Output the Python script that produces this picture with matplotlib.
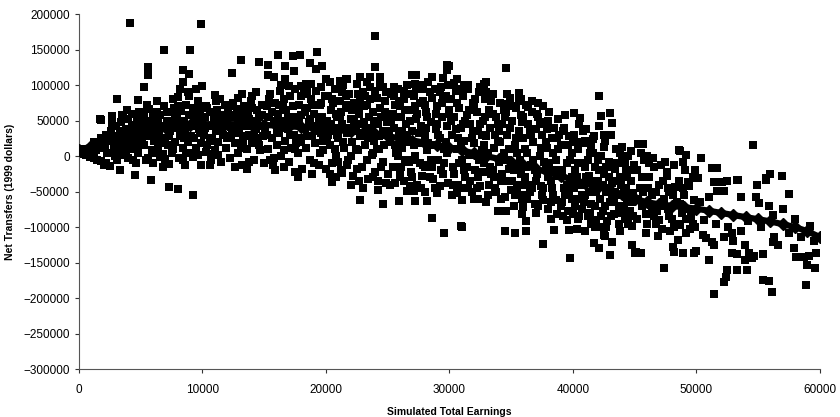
import matplotlib
matplotlib.use("Agg")
import matplotlib.pyplot as plt

plt.rcParams['font.family'] = ['Liberation Sans', 'DejaVu Sans']

# smoothed profile (diamonds): earnings in $1000, net transfers in $1000
trend_earn_k = list(range(0, 61))
trend_net_k = [8, 14, 20, 26, 31, 35, 38, 41, 43, 44, 45, 45, 45, 45, 44, 44, 43, 42, 41, 40,
               39, 37, 35, 33, 31, 28, 25, 22, 19, 15, 12, 8, 4, 0, -4, -8, -13, -18, -23, -28,
               -33, -38, -43, -48, -54, -60, -65, -68, -70, -72, -74, -77, -80, -83, -86, -89,
               -92, -96, -100, -106, -114]

# simulated individuals (squares), (earnings $1000, net transfers $1000)
pts_0_5 = [(4.1, 187), (3.1, 81), (1.7, 52), (2.7, 57), (1.8, 51), (3.5, 58), (3.9, 65), (4.8, 79),
           (2.5, -14), (3.3, -19), (4.5, -26), (4.0, -3), (2.0, -12),
           (0.3, 3), (0.6, 1), (0.9, -1), (1.2, -3), (1.5, -5), (1.8, -7), (2.2, -9),
           (0.5, 10), (1.0, 12), (1.2, 20), (1.5, 15), (1.8, 25), (2.0, 18), (2.2, 30), (2.3, 5),
           (2.5, 22), (2.6, 35), (2.8, 12), (3.0, 28), (3.0, 42), (3.2, 8), (3.3, 20), (3.4, 48),
           (3.5, 32), (3.6, 2), (3.7, 15), (3.8, 38), (3.9, 25), (4.0, 52), (4.1, 10), (4.2, 30),
           (4.3, 44), (4.4, -5), (4.5, 20), (4.6, 36), (4.7, 55), (4.8, 5), (4.9, 28), (4.9, 46),
           (2.7, 45), (1.4, 8), (3.1, -6), (4.3, 60), (4.6, -10), (2.9, 0), (3.6, 55), (4.2, 17)]
pts_5_10 = [(9.9, 186), (6.9, 149), (9.0, 150), (5.6, 125), (5.6, 114), (8.4, 121), (8.9, 116),
            (5.3, 98), (8.4, 105), (8.2, 94), (8.8, 90), (8.0, 83), (7.3, -43), (8.0, -47),
            (9.2, -55), (5.8, -34), (9.9, -12), (7.3, -11), (5.4, -5), (8.4, -5), (9.2, -1), (6.6, -1),
            (5.0, 62), (5.2, 40), (5.3, 15), (5.4, 50), (5.5, 28), (5.6, -2), (5.7, 66), (5.8, 35),
            (5.9, 8), (6.0, 55), (6.1, 22), (6.2, 45), (6.3, 62), (6.4, 12), (6.5, 30), (6.6, 58),
            (6.7, 40), (6.8, 3), (6.9, 70), (7.0, 25), (7.1, 50), (7.2, 15), (7.3, 62), (7.4, 35),
            (7.5, 5), (7.6, 48), (7.7, 68), (7.8, 20), (7.9, 55), (8.0, 40), (8.1, -2), (8.2, 28),
            (8.3, 64), (8.4, 12), (8.5, 50), (8.6, 35), (8.7, 72), (8.8, 20), (8.9, 58), (9.0, 5),
            (9.1, 42), (9.2, 68), (9.3, 25), (9.4, 52), (9.5, 12), (9.6, 78), (9.7, 38), (9.8, 60),
            (9.9, 18), (9.95, 48), (5.5, 72), (6.3, 78), (7.6, 80), (8.9, 85), (9.5, 95), (6.0, -10),
            (7.0, -4), (8.6, -12), (9.6, 2), (6.8, -15)]
pts_10_15 = [(13.1, 136), (14.6, 132), (12.4, 117), (10.0, 99), (11.0, 86), (11.1, 77), (13.2, 87),
             (14.3, 90), (10.3, 6), (10.9, 3), (13.8, -8), (10.8, 1),
             (10.1, 30), (10.2, 55), (10.3, 70), (10.4, 15), (10.5, 42), (10.6, 62), (10.7, -5),
             (10.8, 25), (10.9, 50), (11.0, 8), (11.1, 35), (11.2, 65), (11.3, 20), (11.4, 48),
             (11.5, -8), (11.6, 58), (11.7, 30), (11.8, 72), (11.9, 12), (12.0, 45), (12.1, 62),
             (12.2, -2), (12.3, 28), (12.4, 55), (12.5, 75), (12.6, 18), (12.7, 40), (12.8, 66),
             (12.9, 5), (13.0, 32), (13.1, 52), (13.2, -12), (13.3, 22), (13.4, 70), (13.5, 42),
             (13.6, 10), (13.7, 60), (13.8, 30), (13.9, 78), (14.0, 18), (14.1, 50), (14.2, -5),
             (14.3, 38), (14.4, 65), (14.5, 25), (14.6, 55), (14.7, 8), (14.8, 72), (14.9, 42),
             (14.95, -10), (11.4, 80), (12.9, 82), (14.0, 85), (10.6, -12), (12.6, -15), (13.6, -18)]
pts_15_20 = [(16.1, 142), (17.3, 141), (17.9, 143), (19.3, 147), (15.3, 128), (16.7, 127), (17.4, 120),
             (18.7, 131), (19.7, 127), (19.2, 123), (15.3, 115), (15.8, 111), (16.7, 108), (17.0, 99),
             (18.8, 101), (18.0, 99), (20.0, 108), (17.7, -29), (16.6, -15), (15.8, -3),
             (15.1, 40), (15.2, 70), (15.3, 10), (15.4, 55), (15.5, 88), (15.6, 25), (15.7, -12),
             (15.8, 45), (15.9, 75), (16.0, 15), (16.1, 60), (16.2, 32), (16.3, 92), (16.4, 0),
             (16.5, 50), (16.6, 80), (16.7, 22), (16.8, 65), (16.9, 38), (17.0, -8), (17.1, 85),
             (17.2, 12), (17.3, 55), (17.4, 30), (17.5, 95), (17.6, 45), (17.7, 5), (17.8, 72),
             (17.9, 25), (18.0, 58), (18.1, -18), (18.2, 88), (18.3, 38), (18.4, 12), (18.5, 68),
             (18.6, 48), (18.7, -5), (18.8, 80), (18.9, 28), (19.0, 60), (19.1, 18), (19.2, 92),
             (19.3, 42), (19.4, -12), (19.5, 72), (19.6, 32), (19.7, 55), (19.8, 8), (19.9, 85),
             (19.95, 40), (15.9, -20), (17.5, -22), (18.9, -25), (16.4, 100), (18.4, 102), (19.6, 98)]
pts_20_25 = [(24.0, 169), (24.0, 125), (24.4, 112), (23.6, 111), (22.8, 111), (21.1, 106), (21.7, 108),
             (24.6, 98), (22.8, -62), (24.6, -68), (24.2, -48), (21.3, -24), (20.5, -36),
             (20.1, 50), (20.2, 85), (20.3, 15), (20.4, 65), (20.5, -10), (20.6, 35), (20.7, 95),
             (20.8, 0), (20.9, 55), (21.0, 25), (21.1, 78), (21.2, -20), (21.3, 45), (21.4, 100),
             (21.5, 12), (21.6, 68), (21.7, 32), (21.8, -5), (21.9, 88), (22.0, 52), (22.1, 20),
             (22.2, -28), (22.3, 75), (22.4, 40), (22.5, 102), (22.6, 8), (22.7, 60), (22.8, 28),
             (22.9, -15), (23.0, 90), (23.1, 48), (23.2, 15), (23.3, 72), (23.4, -32), (23.5, 38),
             (23.6, 98), (23.7, 2), (23.8, 62), (23.9, 22), (24.0, -22), (24.1, 82), (24.2, 45),
             (24.3, 10), (24.4, 100), (24.5, 55), (24.6, -8), (24.7, 30), (24.8, 78), (24.9, -38),
             (24.95, 48), (20.8, -30), (22.0, -40), (23.0, -45), (21.6, 108), (23.3, 105), (20.3, 105)]
pts_25_30 = [(27.0, 115), (27.3, 114), (27.2, 102), (27.9, 100), (29.2, 90), (29.8, 128), (29.8, 121),
             (25.5, 97), (26.3, 92), (25.9, -63), (27.2, -63), (28.2, -63), (28.6, -87), (29.6, -108),
             (26.6, -49), (27.1, -49),
             (25.1, 60), (25.2, 20), (25.3, 88), (25.4, -15), (25.5, 40), (25.6, 72), (25.7, 5),
             (25.8, 95), (25.9, 30), (26.0, -30), (26.1, 55), (26.2, 12), (26.3, 80), (26.4, -5),
             (26.5, 45), (26.6, 100), (26.7, 22), (26.8, 65), (26.9, -22), (27.0, 35), (27.1, 85),
             (27.2, 0), (27.3, 52), (27.4, -40), (27.5, 18), (27.6, 75), (27.7, 42), (27.8, 95),
             (27.9, -12), (28.0, 28), (28.1, 62), (28.2, 8), (28.3, 105), (28.4, -30), (28.5, 48),
             (28.6, 82), (28.7, 15), (28.8, -45), (28.9, 38), (29.0, 70), (29.1, -5), (29.2, 25),
             (29.3, 98), (29.4, 55), (29.5, -25), (29.6, 10), (29.7, 85), (29.8, 42), (29.9, -38),
             (29.95, 65), (25.6, -38), (26.8, -42), (28.0, -50), (29.0, -52), (28.6, 112), (29.5, 110)]
pts_30_35 = [(30.0, 127), (34.6, 124), (30.6, 108), (30.4, 103), (31.2, 100), (32.8, 101), (33.0, 105),
             (34.7, 88), (31.0, -100), (33.9, -78), (34.6, -77), (34.5, -106), (32.3, -60), (31.0, -62),
             (30.9, -99),
             (30.1, 80), (30.2, 30), (30.3, -15), (30.4, 55), (30.5, 92), (30.6, 10), (30.7, -40),
             (30.8, 68), (30.9, 40), (31.0, -5), (31.1, 85), (31.2, 22), (31.3, -30), (31.4, 58),
             (31.5, 95), (31.6, 2), (31.7, 45), (31.8, -50), (31.9, 75), (32.0, 18), (32.1, -20),
             (32.2, 62), (32.3, 35), (32.4, 90), (32.5, -42), (32.6, 8), (32.7, 50), (32.8, -10),
             (32.9, 80), (33.0, 28), (33.1, -55), (33.2, 65), (33.3, 40), (33.4, -25), (33.5, 88),
             (33.6, 12), (33.7, -45), (33.8, 55), (33.9, 22), (34.0, -8), (34.1, 75), (34.2, -35),
             (34.3, 45), (34.4, 5), (34.5, -58), (34.6, 62), (34.7, 30), (34.8, -18), (34.9, 82),
             (34.95, -48), (30.6, -52), (32.0, -60), (33.0, -65), (31.5, 100), (32.5, 97)]
pts_35_40 = [(35.6, 89), (35.6, 77), (34.5, 74), (36.7, 77), (37.6, 71), (36.4, 69), (35.3, -108),
             (36.2, -105), (37.6, -124), (39.8, -143), (38.5, -104), (39.7, -104), (35.9, -81),
             (36.2, -92), (39.5, -90),
             (35.1, 50), (35.2, -20), (35.3, 15), (35.4, 68), (35.5, -45), (35.6, 35), (35.7, -5),
             (35.8, 58), (35.9, -60), (36.0, 25), (36.1, -30), (36.2, 72), (36.3, 5), (36.4, 45),
             (36.5, -50), (36.6, -12), (36.7, 62), (36.8, 20), (36.9, -68), (37.0, 38), (37.1, -25),
             (37.2, 55), (37.3, 0), (37.4, -42), (37.5, 30), (37.6, -62), (37.7, 48), (37.8, -15),
             (37.9, 12), (38.0, -75), (38.1, 62), (38.2, -35), (38.3, 25), (38.4, -55), (38.5, 40),
             (38.6, -5), (38.7, -82), (38.8, 52), (38.9, -28), (39.0, 15), (39.1, -65), (39.2, 35),
             (39.3, -45), (39.4, 58), (39.5, -10), (39.6, -78), (39.7, 28), (39.8, -35), (39.9, 5),
             (39.95, -60), (36.0, -72), (37.0, -80), (38.2, -88), (35.8, 80), (37.2, 75)]
pts_40_45 = [(40.1, 61), (40.6, 54), (42.3, 57), (43.0, 61), (43.2, 47), (44.0, 13), (44.7, 7),
             (42.5, 13), (41.6, 24), (41.0, 22), (42.1, 85), (41.7, -123), (42.1, -129), (43.2, -121),
             (43.0, -139), (44.8, -125), (40.3, -103), (41.0, -105), (42.5, -111), (42.7, -100),
             (41.8, -100), (40.4, -88), (42.6, -113), (45.0, -137),
             (40.1, 30), (40.2, -20), (40.3, -60), (40.4, 10), (40.5, 45), (40.6, -40), (40.7, -75),
             (40.8, 18), (40.9, -10), (41.0, -55), (41.1, 38), (41.2, -85), (41.3, -28), (41.4, 5),
             (41.5, -68), (41.6, -45), (41.7, 28), (41.8, -15), (41.9, -90), (42.0, -35), (42.1, 42),
             (42.2, -60), (42.3, 0), (42.4, -78), (42.5, -25), (42.6, 22), (42.7, -50), (42.8, -92),
             (42.9, -8), (43.0, -65), (43.1, 30), (43.2, -38), (43.3, -82), (43.4, -18), (43.5, 10),
             (43.6, -55), (43.7, -95), (43.8, -30), (43.9, -70), (44.0, -5), (44.1, -45), (44.2, -88),
             (44.3, -20), (44.4, -60), (44.5, 0), (44.6, -78), (44.7, -35), (44.8, -98), (44.9, -52),
             (44.95, -12), (40.0, -82), (41.5, -95), (43.8, -105)]
pts_45_50 = [(45.3, 17), (45.7, 17), (46.0, 0), (48.6, 8), (48.7, 7), (49.2, 1), (47.1, -13),
             (47.6, -22), (48.3, -43), (49.1, -20), (49.9, -20), (50.0, -31), (47.8, -85), (48.7, -97),
             (49.5, -102), (49.9, -100), (46.6, -85), (48.5, -118), (48.9, -137), (48.1, -128),
             (48.2, -135), (49.8, -137), (50.0, -133), (47.4, -157), (45.5, -136), (45.1, -135),
             (48.9, -8),
             (45.2, -20), (45.4, -45), (45.6, -70), (45.8, -5), (46.0, -95), (46.2, -30), (46.4, -55),
             (46.6, -15), (46.8, -78), (47.0, -40), (47.2, -102), (47.4, -60), (47.6, -28), (47.8, -50),
             (48.0, -88), (48.2, -12), (48.4, -65), (48.6, -35), (48.8, -80), (49.0, -55), (49.2, -108),
             (49.4, -42), (49.6, -85), (49.8, -62), (45.9, -108), (46.9, -112), (47.9, -105),
             (45.5, 5), (46.5, -2), (47.5, -8)]
pts_50_55 = [(50.4, -3), (51.3, -17), (51.7, -17), (50.1, -31), (49.3, -36), (51.4, -36), (52.1, -36),
             (52.5, -35), (53.3, -34), (53.6, -57), (54.8, -57), (55.1, -66), (51.0, -58), (51.7, -49),
             (52.2, -49), (54.6, 16), (50.5, -111), (50.8, -116), (51.4, -125), (51.3, -121),
             (52.2, -114), (52.9, -109), (52.9, -136), (53.3, -138), (53.9, -125), (54.3, -136),
             (54.5, -144), (53.9, -147), (54.7, -141), (51.0, -146), (52.5, -161), (52.4, -170),
             (52.2, -177), (53.3, -161), (54.1, -161), (51.4, -194), (54.9, -41), (53.4, -34),
             (50.6, -90), (51.6, -95), (52.6, -100), (53.6, -105), (50.3, -65), (54.2, -92), (53.0, -120)]
pts_55_60 = [(55.4, -138), (55.4, -175), (55.9, -176), (56.1, -192), (56.3, -114), (56.6, -125),
             (56.2, -121), (57.9, -130), (58.1, -142), (58.7, -142), (59.1, -141), (59.7, -137),
             (59.0, -153), (59.6, -157), (58.9, -182), (56.2, -83), (57.5, -108), (58.5, -114),
             (56.0, -25), (55.6, -31), (56.9, -28), (57.5, -54), (55.6, -33), (55.9, -70), (57.0, -75),
             (58.0, -88), (59.2, -98), (59.5, -120), (55.2, -100)]

# extra points inside the dense core of the cloud
core_0_15 = [(1.1, 6), (1.6, 11), (2.1, 14), (2.4, 26), (2.9, 18), (3.3, 36), (3.8, 5), (4.4, 40),
             (4.7, 13), (4.9, 62), (5.1, 22), (5.3, 55), (5.6, 44), (5.9, 30), (6.2, 5), (6.4, 52),
             (6.6, 18), (6.9, 42), (7.1, 62), (7.3, 28), (7.6, 10), (7.8, 58), (8.0, 70), (8.2, 48),
             (8.5, 25), (8.7, 4), (8.9, 44), (9.1, 28), (9.3, 60), (9.6, 50), (9.8, 32), (9.9, 70),
             (10.2, 40), (10.4, 68), (10.6, 22), (10.9, 60), (11.1, 48), (11.3, 2), (11.6, 40),
             (11.8, 55), (12.0, 25), (12.2, 70), (12.4, 35), (12.7, 58), (12.9, 48), (13.1, 12),
             (13.3, 62), (13.5, 28), (13.8, 52), (14.0, 68), (14.2, 30), (14.4, 45), (14.6, 15),
             (14.8, 58), (14.9, 28)]
core_15_30 = [(15.2, 30), (15.4, 80), (15.6, 62), (15.9, 50), (16.2, 72), (16.4, 40), (16.6, 8),
              (16.9, 55), (17.1, 30), (17.3, 70), (17.6, 18), (17.8, 48), (18.0, 85), (18.3, 62),
              (18.5, 28), (18.7, 52), (18.9, 72), (19.1, 35), (19.4, 50), (19.6, 75), (19.8, 22),
              (20.1, 25), (20.4, 45), (20.6, 75), (20.9, 30), (21.1, 55), (21.4, 20), (21.6, 85),
              (21.9, 40), (22.1, 65), (22.4, 10), (22.6, 88), (22.9, 45), (23.1, 70), (23.4, 25),
              (23.6, 80), (23.9, 50), (24.1, 10), (24.4, 68), (24.6, 35), (24.9, 90),
              (25.1, 35), (25.4, 60), (25.6, 15), (25.9, 78), (26.1, -15), (26.4, 65), (26.6, 30),
              (26.9, 88), (27.1, 15), (27.4, 60), (27.6, -10), (27.9, 78), (28.1, 40), (28.4, 90),
              (28.6, -15), (28.9, 60), (29.1, 30), (29.4, 75), (29.6, -10), (29.9, 100)]
core_30_50 = [(30.1, 50), (30.4, -25), (30.6, 75), (30.9, 15), (31.1, 45), (31.4, -15), (31.6, 65),
              (31.9, 35), (32.1, 80), (32.4, -5), (32.6, 30), (32.9, 55), (33.1, 5), (33.4, 78),
              (33.6, -30), (33.9, 45), (34.1, 20), (34.4, 65), (34.6, -35), (34.9, 40),
              (35.1, -35), (35.4, 25), (35.6, -15), (35.9, 48), (36.1, 10), (36.4, -40), (36.6, 30),
              (36.9, -20), (37.1, 60), (37.4, 12), (37.6, -45), (37.9, 38), (38.1, -10), (38.4, 5),
              (38.6, -62), (38.9, 30), (39.1, -20), (39.4, -55), (39.6, 15), (39.9, -30),
              (40.1, -45), (40.4, -10), (40.6, 20), (40.9, -65), (41.1, -30), (41.4, -80), (41.6, 5),
              (41.9, -50), (42.1, -20), (42.4, -40), (42.6, -70), (42.9, -30), (43.1, -85), (43.4, -50),
              (43.6, -10), (43.9, -40), (44.1, -70), (44.4, -30), (44.6, -55), (44.9, -85),
              (45.3, -60), (45.6, -30), (45.9, -82), (46.1, -45), (46.4, -75), (46.7, -50), (47.0, -90),
              (47.3, -35), (47.7, -75), (48.1, -55), (48.5, -95), (48.9, -45), (49.3, -75), (49.7, -95)]
core_15_45 = [(15.5, -5), (16.0, 35), (16.5, 70), (17.0, 48), (17.5, 10), (18.0, 20), (18.5, 90),
              (19.0, -10), (19.5, 5), (20.0, -18), (20.2, 30), (20.5, 80), (20.8, 60), (21.0, -8),
              (21.3, 90), (21.5, 38), (21.8, 72), (22.0, 0), (22.3, 50), (22.5, -18), (22.8, 82),
              (23.0, 32), (23.3, -5), (23.5, 55), (23.8, -30), (24.0, 92), (24.3, 28), (24.5, -15),
              (24.8, 62), (25.0, -25), (25.3, 48), (25.5, 85), (25.8, 0), (26.0, 70), (26.3, -35),
              (26.5, 20), (26.8, 50), (27.0, -5), (27.3, 95), (27.5, 32), (27.8, -28), (28.0, 72),
              (28.3, 18), (28.5, -5), (28.8, 95), (29.0, 45), (29.3, -20), (29.5, 80), (29.8, 5),
              (30.0, 60), (30.3, -40), (30.5, 38), (30.8, -10), (31.0, 95), (31.3, 50), (31.5, -45),
              (31.8, 25), (32.0, 70), (32.3, -30), (32.5, 45), (32.8, 15), (33.0, 90), (33.3, -15),
              (33.5, 60), (33.8, -50), (34.0, 35), (34.3, -25), (34.5, 55), (34.8, 10), (35.0, 70),
              (35.3, -55), (35.5, 5), (35.8, -25), (36.0, 55), (36.3, -60), (36.5, 35), (36.8, -5),
              (37.0, -35), (37.3, 45), (37.5, -55), (37.8, 20), (38.0, 50), (38.3, -45), (38.5, -20),
              (38.8, 10), (39.0, -70), (39.3, 40), (39.5, -40), (39.8, -5), (40.0, 20), (40.3, -30),
              (40.5, -85), (40.8, 35), (41.0, -15), (41.3, -50), (41.5, 15), (41.8, -70), (42.0, -5),
              (42.3, -85), (42.5, 30), (42.8, -45), (43.0, -15), (43.3, -65), (43.5, -35), (43.8, 5),
              (44.0, -80), (44.3, -45), (44.5, -95), (44.8, -20)]
core_20_50 = [(20.3, -25), (20.7, 10), (21.2, 62), (21.7, -12), (22.2, 35), (22.7, -35), (23.2, 85),
              (23.7, 40), (24.2, -35), (24.7, 15), (25.2, -40), (25.7, 55), (26.2, 35), (26.7, -8),
              (27.2, 70), (27.7, -45), (28.2, 55), (28.7, -32), (29.2, -42), (29.7, 20), (30.2, -55),
              (30.7, 25), (31.2, -20), (31.7, -35), (32.2, -45), (32.7, -22), (33.2, -40), (33.7, 30),
              (34.2, -60), (34.7, -5), (35.2, -70), (35.7, -40), (36.2, -15), (36.7, -45), (37.2, -70),
              (37.7, -8), (38.2, -65), (38.7, 25), (39.2, -85), (39.7, -50), (40.2, -70), (40.7, -55),
              (41.2, -5), (41.7, -35), (42.2, -100), (42.7, -15), (43.2, -55), (43.7, -75), (44.2, -10),
              (44.7, -65), (45.2, -88), (45.7, -50), (46.2, -10), (46.7, -95), (47.2, -70), (47.7, -45),
              (48.2, -100), (48.7, -68), (49.2, -88), (49.7, -30), (21.0, 40), (22.5, 70), (23.8, 5),
              (26.0, -20), (27.0, -30), (28.0, -15), (31.0, -45), (33.5, -20), (36.0, -55), (38.0, -30)]

segments = [pts_0_5, pts_5_10, pts_10_15, pts_15_20, pts_20_25, pts_25_30,
            pts_30_35, pts_35_40, pts_40_45, pts_45_50, pts_50_55, pts_55_60,
            core_0_15, core_15_30, core_30_50, core_15_45, core_20_50]
earn = [p[0] * 1000 for seg in segments for p in seg]
net = [p[1] * 1000 for seg in segments for p in seg]

fig = plt.figure(figsize=(8.4, 4.17), dpi=100)
ax = fig.add_axes([0.094, 0.115, 0.882, 0.851])

ax.scatter(earn, net, marker='s', s=26, c='black', linewidths=0, zorder=2)
ax.plot([e * 1000 for e in trend_earn_k], [v * 1000 for v in trend_net_k], '-D',
        color='black', lw=4.5, ms=6, zorder=3)

ax.set_xlim(0, 60000)
ax.set_ylim(-300000, 200000)
ax.set_xticks(range(0, 60001, 10000))
ax.set_yticks(range(-300000, 200001, 50000))
ax.tick_params(labelsize=8.5, length=3, width=0.8, colors='#333333', labelcolor='black')
ax.tick_params(axis='x', pad=8)
for s in ['top', 'right']:
    ax.spines[s].set_visible(False)
for s in ['left', 'bottom']:
    ax.spines[s].set_color('#555555')
    ax.spines[s].set_linewidth(0.8)

ax.set_xlabel('Simulated Total Earnings', fontsize=7.5, fontweight='bold', labelpad=8)
ax.set_ylabel('Net Transfers (1999 dollars)', fontsize=7.5, fontweight='bold', labelpad=6)

fig.savefig('out.png', dpi=100)
